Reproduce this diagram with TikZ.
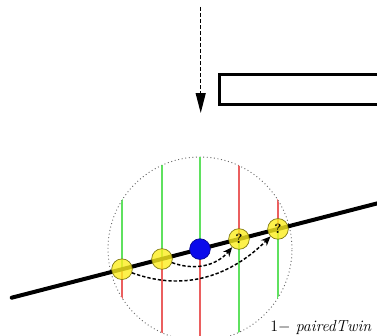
\documentclass[tikz,border=0pt]{standalone}
\usepackage{amsmath}
\usetikzlibrary{arrows.meta}
\definecolor{twin}{RGB}{252,238,30}
\definecolor{self}{RGB}{10,10,235}
\definecolor{upper}{RGB}{95,225,95}
\definecolor{lower}{RGB}{235,95,95}

\begin{document}
\begin{tikzpicture}[x=0.75pt, y=0.75pt,
    dot/.style={circle, draw, inner sep=0pt, minimum size=15.5pt, line width=0.5pt},
    twin/.style={dot, fill=twin, draw=twin!50!black, fill opacity=0.8, text opacity=1, font=\bfseries},
    selfdot/.style={dot, fill=self, draw=self!60!black},
    stick/.style={line width=0.8pt},
    axis/.style={line width=3pt, line cap=round},
    bar/.style={draw, line width=2.6pt},
    darr/.style={-{Stealth[length=7pt, width=6pt]}, line width=1.1pt, dash pattern=on 2.5pt off 1.5pt},
    farr/.style={-{Triangle[length=15pt, width=7.5pt]}, line width=0.9pt, dash pattern=on 3pt off 1.5pt},
]
\clip (0,0) rectangle (377,-335);
\useasboundingbox (0,0) rectangle (377,-335);

% Top: incoming arrow and bar
\coordinate (src) at (200.7,-7);
\coordinate (dst) at (200.7,-113);
\draw[farr] (src) -- (dst);
\draw[bar] (219.7,-74.7) rectangle (400,-104.3);

% Neighbourhood circle
\coordinate (c) at (200,-249);
\coordinate (top) at (200,-150);
\coordinate (bot) at (200,-350);
\coordinate (p1) at (122,-269.2);
\coordinate (p2) at (162,-259.0);
\coordinate (p3) at (200,-249.1);
\coordinate (p4) at (239,-239.0);
\coordinate (p5) at (278,-228.9);
\draw[gray!80!black, dotted, line width=0.7pt] (c) circle[radius=92];

\begin{scope}
\clip (c) circle[radius=92];
\foreach \p/\up/\lo in {p1/upper/lower, p2/upper/lower, p3/upper/lower, p4/lower/upper, p5/lower/upper}{
  \draw[stick, \up] (\p) -- (\p |- top);
  \draw[stick, \lo] (\p) -- (\p |- bot);
}
\end{scope}

% Line through the points
\coordinate (lineL) at (11.7,-297.7);
\coordinate (lineR) at (400,-197.5);
\draw[axis] (lineL) -- (lineR);

% Points
\node[twin] (y1) at (p1) {};
\node[twin] (y2) at (p2) {};
\node[selfdot] (me) at (p3) {};
\node[twin] (q1) at (p4) {?};
\node[twin] (q2) at (p5) {?};

% Moves
\draw[darr] (y2) to[out=-20, in=-130] (q1);
\draw[darr] (y1) to[out=-20, in=-135] (q2);

% Label
\node[anchor=base west, inner sep=0pt, font=\fontsize{12}{14}\selectfont] (lbl) at (270,-331) {1$-$ \textit{pairedTwin}};
\end{tikzpicture}
\end{document}
